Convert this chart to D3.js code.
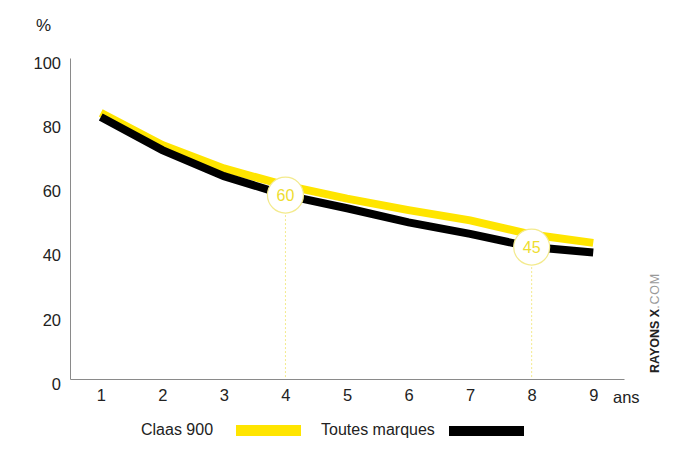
<!DOCTYPE html>
<html>
<head>
<meta charset="utf-8">
<script src="https://cdn.jsdelivr.net/npm/d3@7"></script>
<style>
  body { margin: 0; background: #fff; }
  svg { display: block; font-family: "Liberation Sans", Arial, sans-serif; }
</style>
</head>
<body>
<svg id="chart" width="700" height="467"></svg>
<script>
// data
const years = [1, 2, 3, 4, 5, 6, 7, 8, 9];
const claas = [82.9, 72.9, 65.6, 60.3, 56.2, 52.6, 49.4, 45.0, 42.4];
const toutes = [81.6, 71.3, 63.2, 57.3, 53.2, 48.8, 45.2, 41.1, 39.4];
const yTicks = [0, 20, 40, 60, 80, 100];
const callouts = [{ year: 4, label: "60" }, { year: 8, label: "45" }];

const svg = d3.select("#chart");

const x = d3.scaleLinear().domain([0.5, 9.5]).range([70, 624]);
const y = d3.scaleLinear().domain([0, 100]).range([379, 58]);

const yellow = "#ffe500";
const paleYellow = "#f3ea8c";

// y axis
const yAxis = svg.append("g")
  .attr("transform", `translate(${x(0.5)},0)`)
  .call(d3.axisLeft(y).tickValues(yTicks).tickSize(0).tickPadding(9));
yAxis.select(".domain").attr("stroke", "#8a8a8a");
yAxis.selectAll("text")
  .attr("font-size", 16.5)
  .attr("fill", "#222")
  .attr("font-family", "Liberation Sans, Arial, sans-serif")
  .attr("dy", "0.62em");

// x axis
const xAxis = svg.append("g")
  .attr("transform", `translate(0,${y(0)})`)
  .call(d3.axisBottom(x).tickValues(years).tickFormat(d3.format("d")).tickSize(0).tickPadding(10));
xAxis.select(".domain").attr("stroke", "#8a8a8a");
xAxis.selectAll("text")
  .attr("font-size", 16.5)
  .attr("fill", "#222")
  .attr("font-family", "Liberation Sans, Arial, sans-serif");

svg.append("text")
  .attr("x", 36).attr("y", 31)
  .attr("font-size", 17).attr("fill", "#222")
  .text("%");

svg.append("text")
  .attr("x", 613).attr("y", 403)
  .attr("font-size", 16.5).attr("fill", "#222")
  .text("ans");

// dotted drop lines under the callouts
const lookup = new Map(years.map((d, i) => [d, toutes[i]]));
svg.selectAll("line.drop")
  .data(callouts)
  .join("line")
  .attr("class", "drop")
  .attr("x1", d => x(d.year)).attr("x2", d => x(d.year))
  .attr("y1", d => y(lookup.get(d.year)))
  .attr("y2", y(0))
  .attr("stroke", paleYellow)
  .attr("stroke-width", 1)
  .attr("stroke-dasharray", "2,2");

// lines
const line = d3.line().x((d, i) => x(years[i])).y(d => y(d));

svg.append("path")
  .datum(claas)
  .attr("d", line)
  .attr("fill", "none")
  .attr("stroke", yellow)
  .attr("stroke-width", 8);

svg.append("path")
  .datum(toutes)
  .attr("d", line)
  .attr("fill", "none")
  .attr("stroke", "#000")
  .attr("stroke-width", 8);

// callout circles
const co = svg.selectAll("g.callout")
  .data(callouts)
  .join("g")
  .attr("class", "callout")
  .attr("transform", d => `translate(${x(d.year)},${y(lookup.get(d.year))})`);

co.append("circle")
  .attr("r", 18)
  .attr("fill", "#fff")
  .attr("stroke", paleYellow)
  .attr("stroke-width", 1.2);

co.append("text")
  .attr("text-anchor", "middle")
  .attr("dy", "0.36em")
  .attr("font-size", 16)
  .attr("fill", "#eedd30")
  .text(d => d.label);

// legend
const legend = svg.append("g");
legend.append("text")
  .attr("x", 141).attr("y", 435)
  .attr("font-size", 16).attr("fill", "#222")
  .text("Claas 900");
legend.append("rect")
  .attr("x", 236).attr("y", 425).attr("width", 65).attr("height", 11)
  .attr("fill", yellow);
legend.append("text")
  .attr("x", 321).attr("y", 435)
  .attr("font-size", 16).attr("fill", "#222")
  .text("Toutes marques");
legend.append("rect")
  .attr("x", 449).attr("y", 426).attr("width", 75).attr("height", 10)
  .attr("fill", "#000");

// watermark
const wm = svg.append("text")
  .attr("transform", "translate(659,373) rotate(-90)")
  .attr("font-size", 12.5);
wm.append("tspan")
  .attr("font-weight", "bold").attr("fill", "#222")
  .text("RAYONS X");
wm.append("tspan")
  .attr("fill", "#999").attr("font-weight", "300")
  .attr("letter-spacing", 0.8)
  .text(".COM");
</script>
</body>
</html>
